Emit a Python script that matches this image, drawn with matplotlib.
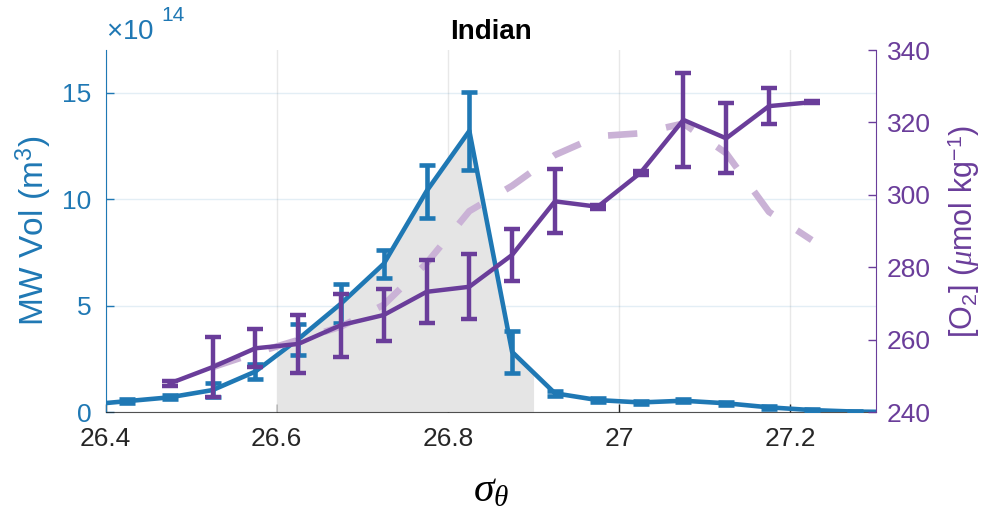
import numpy as np
import matplotlib
matplotlib.use("Agg")
import matplotlib.pyplot as plt
from matplotlib.ticker import FuncFormatter

plt.rcParams['font.family'] = ['Liberation Sans', 'DejaVu Sans']
plt.rcParams['mathtext.fontset'] = 'custom'
plt.rcParams['mathtext.rm'] = 'Liberation Sans'
plt.rcParams['mathtext.it'] = 'Liberation Serif:italic'
plt.rcParams['mathtext.bf'] = 'Liberation Sans:bold'

# meltwater volume per density bin (m^3) and its uncertainty
sigma_mw = [26.375, 26.425, 26.475, 26.525, 26.575, 26.625, 26.675, 26.725, 26.775, 26.825,
            26.875, 26.925, 26.975, 27.025, 27.075, 27.125, 27.175, 27.225, 27.275, 27.325]
mw_vol = [0.33, 0.51, 0.69, 1.03, 1.90, 3.42, 5.09, 6.96, 10.37, 13.2,
          2.82, 0.88, 0.56, 0.45, 0.53, 0.41, 0.22, 0.09, 0.02, 0.0]
mw_err = [0.05, 0.08, 0.10, 0.31, 0.37, 0.72, 0.92, 0.65, 1.25, 1.85,
          1.0, 0.12, 0.08, 0.07, 0.08, 0.07, 0.06, 0.05, 0.03, 0.0]
vol_exp = 14

# dissolved oxygen in the same bins
sigma_o2 = [26.475, 26.525, 26.575, 26.625, 26.675, 26.725, 26.775, 26.825,
            26.875, 26.925, 26.975, 27.025, 27.075, 27.125, 27.175, 27.225]
o2_mean = [247.9, 252.4, 257.6, 258.8, 264.0, 266.8, 273.2, 274.6,
           283.4, 298.2, 296.7, 306.1, 320.7, 315.6, 324.5, 325.6]
o2_err = [0.6, 8.2, 5.2, 8.1, 8.7, 7.3, 8.7, 9.0,
          7.2, 8.8, 0.6, 0.6, 12.9, 9.7, 5.0, 0.3]

# background oxygen profile (dashed)
sigma_bg = [26.525, 26.575, 26.625, 26.675, 26.725, 26.775, 26.825, 26.875,
            26.925, 26.975, 27.025, 27.075, 27.125, 27.175, 27.225]
o2_bg = [252.4, 256.3, 259.9, 263.6, 269.6, 281.1, 295.5, 302.5,
         311.0, 316.2, 317.0, 319.7, 311.5, 295.3, 287.5]

shade_lo, shade_hi = 26.6, 26.9

blue = '#1f78b4'
purple = '#6a3d9a'
light_purple = '#cab2d6'
axis_gray = '#262626'

fig = plt.figure(figsize=(9.89, 5.11), dpi=100)
ax = fig.add_axes([0.1067, 0.1937, 0.7790, 0.7084])

scale = 10.0 ** vol_exp
mw_abs = np.array(mw_vol) * scale
err_abs = np.array(mw_err) * scale

# shaded density range under the volume curve
xs = np.array(sigma_mw)
inside = xs[(xs > shade_lo) & (xs < shade_hi)]
xf = np.concatenate([[shade_lo], inside, [shade_hi]])
yf = np.interp(xf, xs, mw_abs)
ax.fill_between(xf, 0, yf, color='#e5e5e5', lw=0, zorder=1)

ax.errorbar(sigma_mw, mw_abs, yerr=err_abs, color=blue, lw=3.3, elinewidth=3.3,
            capsize=5.8, capthick=3.3, zorder=3)

ax.set_xlim(26.4, 27.3)
ax.set_ylim(0, 17 * scale)
ax.set_xticks([26.4, 26.6, 26.8, 27.0, 27.2])
ax.xaxis.set_major_formatter(FuncFormatter(lambda v, p: f"{v:g}"))
ax.set_yticks(np.array([0, 5, 10, 15]) * scale)
ax.yaxis.set_major_formatter(FuncFormatter(lambda v, p: f"{v / scale:g}"))
# exponent label above the left axis
ax.text(0.0, 1.015, r'$\times$10', transform=ax.transAxes, color=blue,
        fontsize=20, ha='left', va='bottom')
ax.text(0.073, 1.07, str(vol_exp), transform=ax.transAxes, color=blue,
        fontsize=15, ha='left', va='bottom')

ax.set_axisbelow(True)
ax.grid(axis='y', color=blue, alpha=0.12, lw=1)
ax.grid(axis='x', color=axis_gray, alpha=0.1, lw=1)

ax.tick_params(axis='x', direction='in', length=5.5, width=1, colors=axis_gray,
               labelsize=19, pad=11)
ax.tick_params(axis='y', direction='in', length=5.5, width=1, colors=blue,
               labelsize=19, pad=10)
ax.spines['top'].set_visible(False)
ax.spines['right'].set_visible(False)
ax.spines['left'].set_color(blue)
ax.spines['bottom'].set_color(axis_gray)
ax.spines['bottom'].set_alpha(0.8)
ax.set_ylabel('MW Vol (m$^3$)', color=blue, fontsize=24, labelpad=6)
ax.set_xlabel(r'$\sigma_\theta$', fontsize=30, labelpad=14)
ax.set_title('Indian', fontsize=20, fontweight='bold', pad=8)

ax2 = ax.twinx()
ax2.plot(sigma_bg, o2_bg, color=light_purple, lw=4.8, dashes=(4.4, 4.4), zorder=2)
ax2.errorbar(sigma_o2, o2_mean, yerr=o2_err, color=purple, lw=3.2, elinewidth=3.2,
             capsize=5.8, capthick=3.2, zorder=3)
ax2.set_ylim(240, 340)
ax2.set_yticks([240, 260, 280, 300, 320, 340])
ax2.tick_params(axis='y', direction='in', length=5.5, width=1, colors=purple,
                labelsize=19, pad=8)
for s in ['top', 'left', 'bottom']:
    ax2.spines[s].set_visible(False)
ax2.spines['right'].set_color(purple)
ax2.set_ylabel(r'[O$_2$] ($\mu$mol kg$^{-1}$)', color=purple, fontsize=22, labelpad=10)

fig.savefig('out.png', dpi=100)
